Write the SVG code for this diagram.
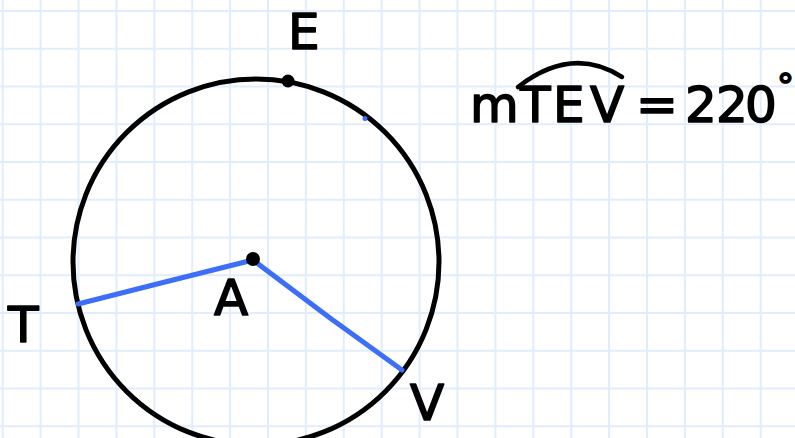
<svg xmlns="http://www.w3.org/2000/svg" width="795" height="438" viewBox="0 0 795 438">
<style>
.grid{stroke:#e1edfc;stroke-width:2;fill:none}
.lbl{font-family:"DejaVu Sans","Liberation Sans",sans-serif;font-size:50px;fill:#000;stroke:#000;stroke-width:1.6;stroke-linejoin:round}
.circ{fill:none;stroke:#000;stroke-width:5}
.radius{fill:none;stroke:#3d6ef7;stroke-width:5;stroke-linecap:round;stroke-linejoin:round}
.dot{fill:#000}
</style>
<rect x="0" y="0" width="795" height="438" fill="#ffffff"/>
<path class="grid" d="M2.7 0V438M40.6 0V438M78.5 0V438M116.4 0V438M154.3 0V438M192.2 0V438M230.1 0V438M268 0V438M305.9 0V438M343.8 0V438M381.7 0V438M419.6 0V438M457.5 0V438M495.4 0V438M533.3 0V438M571.2 0V438M609.1 0V438M647 0V438M684.9 0V438M722.8 0V438M760.7 0V438M0 11H795M0 48.75H795M0 86.5H795M0 124.25H795M0 162H795M0 199.75H795M0 237.5H795M0 275.25H795M0 313H795M0 350.75H795M0 388.5H795M0 426.25H795"/>
<g id="circle">
<circle class="circ" cx="256" cy="262" r="183"/>
</g>
<g id="connectors">
<polyline class="radius" points="78,304 165,282 253,260"/>
<polyline class="radius" points="253,260 330,318 402,370"/>
</g>
<g id="node-E">
<circle class="dot" cx="288" cy="81" r="6.5"/>
<text class="lbl" x="288" y="49">E</text>
</g>
<g id="node-A">
<circle class="dot" cx="253" cy="259" r="7"/>
<text class="lbl" x="214" y="315">A</text>
</g>
<g id="node-T">
<text class="lbl" x="8" y="342">T</text>
</g>
<g id="node-V">
<text class="lbl" x="410" y="420">V</text>
</g>
<g id="mark">
<circle cx="365" cy="118.5" r="2.5" fill="#3d6ef7"/>
</g>
<g id="formula">
<path d="M518 87 Q572 45 622 77" fill="none" stroke="#000" stroke-width="4.5" stroke-linecap="round"/>
<text class="lbl" y="122"><tspan x="470">m</tspan><tspan x="520">T</tspan><tspan x="553">E</tspan><tspan x="590">V</tspan><tspan x="636">=</tspan><tspan x="685">2</tspan><tspan x="716">2</tspan><tspan x="745">0</tspan></text>
<text class="lbl" x="777" y="98" style="font-size:34px">°</text>
</g>
</svg>
